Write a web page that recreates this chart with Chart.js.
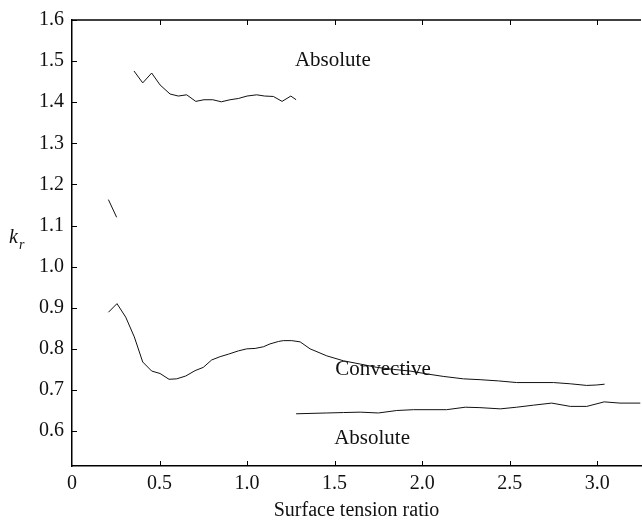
<!DOCTYPE html>
<html>
<head>
<meta charset="utf-8">
<script src="https://cdn.jsdelivr.net/npm/chart.js@4.4.0/dist/chart.umd.min.js"></script>
<style>
  html, body { margin: 0; padding: 0; background: #fff; }
  #wrap { width: 642px; height: 525px; }
</style>
</head>
<body>
<div id="wrap"><canvas id="krPlot" width="642" height="525"></canvas></div>
<script>
// tick values
const xTicks = [0, 0.5, 1.0, 1.5, 2.0, 2.5, 3.0];
const yTicks = [0.6, 0.7, 0.8, 0.9, 1.0, 1.1, 1.2, 1.3, 1.4, 1.5, 1.6];

// upper absolute branch
const absUpperX = [0.354, 0.404, 0.455, 0.503, 0.56, 0.607, 0.655, 0.707, 0.754, 0.804, 0.853, 0.903, 0.95, 1.0, 1.055, 1.10, 1.15, 1.20, 1.25, 1.28];
const absUpperY = [1.476, 1.447, 1.471, 1.442, 1.420, 1.415, 1.418, 1.402, 1.406, 1.406, 1.401, 1.406, 1.409, 1.415, 1.418, 1.415, 1.414, 1.402, 1.415, 1.406];

// short piece near x = 0.2
const shortX = [0.208, 0.255];
const shortY = [1.163, 1.120];

// convective branch
const convX = [0.208, 0.257, 0.307, 0.356, 0.404, 0.455, 0.503, 0.554, 0.598, 0.650, 0.703, 0.750, 0.798, 0.846, 0.893, 0.950, 0.998, 1.046, 1.093, 1.131, 1.18, 1.207, 1.255, 1.303, 1.36, 1.455, 1.55, 1.646, 1.741, 1.836, 1.931, 2.027, 2.12, 2.236, 2.331, 2.436, 2.54, 2.75, 2.846, 2.94, 2.994, 3.042];
const convY = [0.889, 0.910, 0.877, 0.829, 0.768, 0.746, 0.740, 0.726, 0.727, 0.734, 0.747, 0.755, 0.773, 0.781, 0.787, 0.795, 0.800, 0.801, 0.805, 0.812, 0.818, 0.820, 0.820, 0.817, 0.800, 0.783, 0.771, 0.763, 0.755, 0.750, 0.746, 0.739, 0.733, 0.727, 0.725, 0.722, 0.718, 0.718, 0.715, 0.711, 0.712, 0.714];

// lower absolute branch
const absLowerX = [1.28, 1.455, 1.55, 1.646, 1.75, 1.855, 1.95, 2.14, 2.246, 2.33, 2.446, 2.54, 2.636, 2.74, 2.846, 2.94, 3.04, 3.13, 3.246];
const absLowerY = [0.642, 0.644, 0.645, 0.646, 0.644, 0.650, 0.652, 0.652, 0.658, 0.657, 0.654, 0.658, 0.663, 0.668, 0.660, 0.660, 0.671, 0.668, 0.668];

// text labels inside the plot
const noteText = ['Absolute', 'Convective', 'Absolute'];
const noteX = [1.49, 1.777, 1.714];
const noteY = [1.502, 0.750, 0.581];

const serif = '"Liberation Serif", "Times New Roman", serif';

function toPoints(xs, ys) {
    return xs.map((x, i) => ({ x: x, y: ys[i] }));
}

function lineSet(label, xs, ys) {
    return {
        label: label,
        data: toPoints(xs, ys),
        showLine: true,
        borderColor: '#111',
        borderWidth: 1,
        pointRadius: 0,
        tension: 0,
        fill: false
    };
}

// inward ticks, top frame line, notes and the k_r label
const framePlugin = {
    id: 'frame',
    afterDraw(chart) {
        const ctx = chart.ctx;
        const xs = chart.scales.x, ys = chart.scales.y;
        const a = chart.chartArea;
        ctx.save();
        ctx.strokeStyle = '#000';
        ctx.lineWidth = 1.3;
        ctx.beginPath();
        ctx.moveTo(a.left, a.top);
        ctx.lineTo(a.right, a.top);
        ctx.stroke();
        ctx.lineWidth = 1;
        ctx.beginPath();
        yTicks.forEach(v => {
            const py = Math.round(ys.getPixelForValue(v)) + 0.5;
            ctx.moveTo(a.left, py);
            ctx.lineTo(a.left + 5, py);
        });
        xTicks.forEach(v => {
            if (v === 0) return;
            const px = Math.round(xs.getPixelForValue(v)) + 0.5;
            ctx.moveTo(px, a.bottom);
            ctx.lineTo(px, a.bottom - 5);
            ctx.moveTo(px, a.top);
            ctx.lineTo(px, a.top + 5);
        });
        ctx.stroke();

        ctx.fillStyle = '#111';
        ctx.font = '21px ' + serif;
        ctx.textAlign = 'center';
        ctx.textBaseline = 'middle';
        noteText.forEach((t, i) => {
            ctx.fillText(t, xs.getPixelForValue(noteX[i]), ys.getPixelForValue(noteY[i]));
        });

        ctx.textAlign = 'left';
        ctx.font = 'italic 20px ' + serif;
        ctx.fillText('k', 9, 238);
        ctx.font = 'italic 14px ' + serif;
        ctx.fillText('r', 19, 245);
        ctx.restore();
    }
};

const chartCtx = document.getElementById('krPlot').getContext('2d');
window.krChart = new Chart(chartCtx, {
    type: 'scatter',
    data: {
        datasets: [
            lineSet('Absolute (upper)', absUpperX, absUpperY),
            lineSet('Short piece', shortX, shortY),
            lineSet('Convective', convX, convY),
            lineSet('Absolute (lower)', absLowerX, absLowerY)
        ]
    },
    options: {
        responsive: false,
        animation: false,
        layout: { padding: { top: 12, right: 1, left: 0, bottom: 0 } },
        plugins: {
            legend: { display: false },
            tooltip: { enabled: false }
        },
        scales: {
            x: {
                type: 'linear',
                min: 0,
                max: 3.25,
                afterBuildTicks: scale => { scale.ticks = xTicks.map(v => ({ value: v })); },
                afterFit: scale => { scale.height = 59; },
                grid: { display: false, drawTicks: false },
                border: { display: true, color: '#000', width: 1.5 },
                ticks: {
                    color: '#111',
                    padding: 6,
                    maxRotation: 0,
                    font: { family: serif, size: 20 },
                    callback: v => (v === 0 ? '0' : v.toFixed(1))
                },
                title: {
                    display: true,
                    text: 'Surface tension ratio',
                    color: '#111',
                    font: { family: serif, size: 20 },
                    padding: { top: 0, bottom: 2 }
                }
            },
            y: {
                type: 'linear',
                min: 0.515,
                max: 1.6,
                afterBuildTicks: scale => { scale.ticks = yTicks.map(v => ({ value: v })); },
                afterFit: scale => { scale.width = 72; },
                grid: { display: false, drawTicks: false },
                border: { display: true, color: '#000', width: 1.5 },
                ticks: {
                    color: '#111',
                    padding: 8,
                    font: { family: serif, size: 20 },
                    callback: v => v.toFixed(1)
                }
            }
        }
    },
    plugins: [framePlugin]
});
</script>
</body>
</html>
